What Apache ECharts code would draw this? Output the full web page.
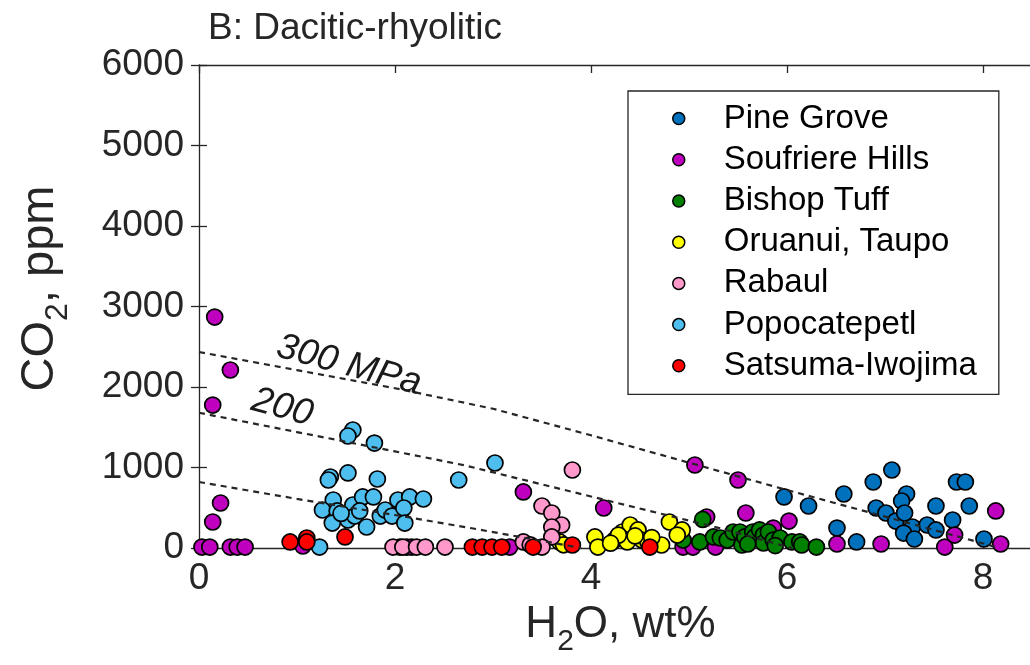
<!DOCTYPE html>
<html><head><meta charset="utf-8">
<script src="https://cdn.jsdelivr.net/npm/echarts@6/dist/echarts.min.js"></script>
<style>html,body{margin:0;padding:0;background:#fff}#c{width:1030px;height:665px}</style>
</head><body><div id="c"></div>
<script>
const FONT = 'Liberation Sans, Arial, Helvetica, sans-serif';
const titleText = 'B: Dacitic-rhyolitic';
const seriesNames = ['Pine Grove','Soufriere Hills','Bishop Tuff','Oruanui, Taupo','Rabaul','Popocatepetl','Satsuma-Iwojima'];
const seriesColors = ['#0072BD','#BF00BF','#008000','#FFFF00','#FF99CC','#4DBEEE','#FF0000'];
const xTicks = [0,2,4,6,8];
const yTicks = [0,1000,2000,3000,4000,5000,6000];

const pineGrove = [[5.97,634],[6.22,522],[6.58,671],[6.51,248],[6.71,75],[6.88,820],[7.07,969],[6.91,497],[7.01,435],[7.11,335],[7.22,671],[7.17,584],[7.2,435],[7.28,261],[7.19,186],[7.3,112],[7.43,286],[7.52,224],[7.52,522],[7.69,348],[7.73,820],[7.82,820],[7.86,522],[8.01,112]];
const soufriere = [[0.16,2869],[0.32,2211],[0.14,1776],[0.22,559],[0.14,323],[0.03,12],[0.11,12],[0.32,12],[0.39,12],[0.47,12],[1.06,25],[2.05,12],[2.12,12],[2.17,12],[3.17,12],[3.31,696],[4.13,497],[5.06,1031],[5.5,845],[5.58,435],[6.02,335],[5.86,248],[6.51,50],[6.96,50],[7.61,12],[7.71,161],[8.13,460],[8.18,50],[5.18,385],[4.94,12],[5.04,12],[5.27,12]];
const bishop = [[5.14,355],[4.94,99],[5.11,75],[5.25,137],[5.32,124],[5.39,99],[5.45,199],[5.52,199],[5.54,37],[5.57,137],[5.65,199],[5.67,137],[5.72,224],[5.76,161],[5.76,62],[5.81,199],[5.86,99],[5.93,124],[6.05,75],[6.13,75],[6.15,37],[6.3,12],[5.6,50],[5.88,30]];
const oruanui = [[3.68,75],[3.72,40],[4.04,137],[4.07,12],[4.24,99],[4.32,199],[4.4,286],[4.48,224],[4.37,75],[4.52,99],[4.58,75],[4.72,37],[4.8,323],[4.93,224],[4.88,161],[4.28,160],[4.45,150],[4.62,130],[4.2,60]];
const rabaul = [[1.98,12],[2.08,12],[2.22,12],[2.31,12],[2.51,12],[3.81,969],[3.5,522],[3.6,435],[3.7,286],[3.6,261],[3.6,137],[3.31,75],[3.5,12],[3.38,40]];
const popocatepetl = [[1.57,1466],[1.52,1391],[1.79,1304],[1.34,882],[1.32,845],[1.52,932],[1.82,857],[1.37,596],[1.26,472],[1.41,460],[1.57,534],[1.67,634],[1.78,634],[1.52,348],[1.36,310],[1.59,397],[1.71,261],[1.85,397],[1.9,472],[1.97,397],[2.03,596],[2.15,634],[2.29,609],[2.09,497],[2.1,310],[2.65,845],[3.02,1056],[1.23,12],[1.45,430],[1.64,460]];
const satsuma = [[0.93,75],[1.1,124],[1.1,75],[1.49,137],[2.79,12],[2.89,12],[2.99,12],[3.09,12],[3.41,12],[3.81,37],[4.6,12]];
const seriesData = [pineGrove, soufriere, bishop, oruanui, rabaul, popocatepetl, satsuma];

const iso300 = [[0,2435],[1,2210],[2,1985],[3,1730],[4,1400],[5,1060],[6,720],[7,390],[8.17,0]];
const iso200 = [[0,1680],[1,1440],[2,1200],[2.7,1030],[4,640],[5.3,250],[6.05,0]];
const iso100 = [[0,820],[1,610],[2,410],[2.77,248],[3.9,0]];
const isoLabels = [[1.53,2270,'300 MPa'],[0.85,1745,'200']];

const chart = echarts.init(document.getElementById('c'), null, {renderer:'canvas'});
const axisCol = '#262626';
const nameRichX = {
  a: {fontSize: 44, fontFamily: FONT, color: axisCol, lineHeight: 48, verticalAlign: 'top'},
  s: {fontSize: 30, fontFamily: FONT, color: axisCol, lineHeight: 54, verticalAlign: 'bottom'}
};
const nameRichY = {
  a: {fontSize: 47, fontFamily: FONT, color: axisCol, lineHeight: 50, verticalAlign: 'top'},
  s: {fontSize: 32, fontFamily: FONT, color: axisCol, lineHeight: 57, verticalAlign: 'bottom'}
};
const scatterSeries = seriesNames.map((n,i) => ({
  name: n, type: 'scatter', data: seriesData[i], symbol: 'circle', symbolSize: 16,
  itemStyle: {color: seriesColors[i], borderColor: '#000', borderWidth: 1.7, opacity: 1},
  xAxisIndex: 0, yAxisIndex: 0, z: 2
}));
const isoSeries = [iso300, iso200, iso100].map(d => ({
  type: 'line', data: d, symbol: 'none', silent: true, z: 5,
  lineStyle: {color: axisCol, width: 2.2, type: [6, 5]}
}));
const labelSeries = {
  type: 'scatter', symbolSize: 0, silent: true, z: 6,
  data: isoLabels.map(l => ({value: [l[0], l[1]], name: l[2]})),
  itemStyle: {opacity: 1},
  label: {show: true, position: 'inside', formatter: p => p.name, rotate: -15,
    fontSize: 37, fontStyle: 'italic', fontFamily: FONT, color: '#1a1a1a', opacity: 1}
};
const common = {
  axisLine: {show: true, onZero: false, lineStyle: {color: axisCol, width: 1.3}},
  axisTick: {show: true, inside: true, length: 8, lineStyle: {color: axisCol, width: 1.3}},
  splitLine: {show: false}
};
chart.setOption({
  animation: false,
  backgroundColor: '#fff',
  title: {text: titleText, left: 203, top: 5, textStyle: {fontSize: 37, fontWeight: 'normal', fontFamily: FONT, color: '#262626'}},
  grid: {left: 199, top: 65, width: 833, height: 483, containLabel: false, outerBoundsMode: 'none'},
  legend: {
    data: seriesNames, orient: 'vertical', left: 628, top: 91,
    backgroundColor: '#fff', borderColor: '#262626', borderWidth: 1.3,
    padding: [7, 22, 8, 44], itemWidth: 12, itemHeight: 12, itemGap: 0,
    icon: 'circle',
    itemStyle: {borderColor: '#000', borderWidth: 1.5},
    textStyle: {fontSize: 33, fontFamily: FONT, color: '#000', lineHeight: 41.2, padding: [0,0,0,34]}
  },
  xAxis: [
    Object.assign({type: 'value', min: 0, max: 8.5, interval: 2, position: 'bottom',
      axisLabel: {fontSize: 37, fontFamily: FONT, color: axisCol, margin: 12,
        formatter: v => (xTicks.indexOf(v) >= 0 ? String(v) : '')},
      name: '{a|H}{s|2}{a|O, wt%}', nameLocation: 'middle', nameGap: 55,
      nameTextStyle: {rich: nameRichX, padding: [0, 0, 0, 10]}}, common),
    Object.assign({type: 'value', min: 0, max: 8.5, interval: 2, position: 'top', axisLabel: {show: false}}, common)
  ],
  yAxis: [
    Object.assign({type: 'value', min: 0, max: 6000, interval: 1000, position: 'left',
      axisLabel: {fontSize: 37, fontFamily: FONT, color: axisCol, margin: 15,
        formatter: v => (yTicks.indexOf(v) >= 0 ? String(v) : '')},
      name: '{a|CO}{s|2}{a|, ppm}', nameLocation: 'middle', nameGap: 125, nameRotate: 90,
      nameTextStyle: {rich: nameRichY, padding: [0, 0, 0, 36]}}, common),
    Object.assign({type: 'value', min: 0, max: 6000, interval: 1000, position: 'right', axisLabel: {show: false}},
      common, {axisLine: {show: false}})
  ],
  series: scatterSeries.concat(isoSeries, [labelSeries])
});
</script></body></html>
